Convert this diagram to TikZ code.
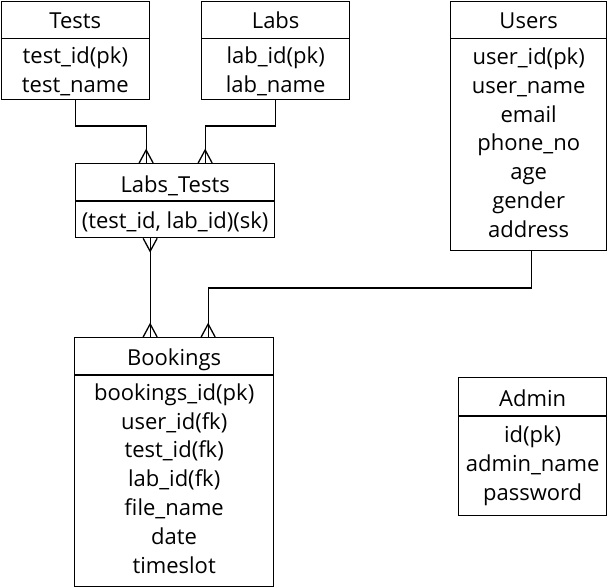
\documentclass[tikz,border=0pt]{standalone}
\usepackage{fontspec}
\setmainfont{Open Sans}
\usetikzlibrary{calc}
\tikzset{
  ent/.style={draw, line width=1.3pt, inner sep=0pt, anchor=north west},
  txt/.style={anchor=base, inner sep=0pt, font=\fontsize{22}{26}\selectfont},
  link/.style={line width=1.3pt},
}
\newcommand{\divline}[2]{\draw[link] ($(#1.north west)+(0,#2)$) -- ($(#1.north east)+(0,#2)$);}
% crow's foot at a box edge: #1 coordinate on edge, #2 = +1 box below, -1 box above
\newcommand{\crowfoot}[2]{\draw[link] ($(#1)+(-7,0)$) -- ($(#1)+(0,-13*#2)$) -- ($(#1)+(7,0)$);}
\begin{document}
\begin{tikzpicture}[x=1pt,y=-1pt]
\useasboundingbox (0,0) rectangle (607,587);
% boxes
\node[ent, minimum width=148pt, minimum height=98pt] (tests) at (0.7,0.7) {};
\node[ent, minimum width=148pt, minimum height=98pt] (labs) at (201,0.7) {};
\node[ent, minimum width=156pt, minimum height=249pt] (users) at (450,0.7) {};
\node[ent, minimum width=199pt, minimum height=74pt] (lt) at (75,163) {};
\node[ent, minimum width=199pt, minimum height=249pt] (book) at (74,337) {};
\node[ent, minimum width=148pt, minimum height=138pt] (admin) at (458,377) {};
\divline{tests}{38}
\divline{labs}{38}
\divline{users}{38}
\divline{lt}{38}
\divline{book}{38}
\divline{admin}{39}
% texts
\node[txt] (t0) at ($(tests.north)+(0,28)$) {Tests};
\node[txt] (t1) at ($(tests.north)+(0,63)$) {test\_id(pk)};
\node[txt] (t2) at ($(tests.north)+(0,92)$) {test\_name};
\node[txt] (l0) at ($(labs.north)+(0,28)$) {Labs};
\node[txt] (l1) at ($(labs.north)+(0,63)$) {lab\_id(pk)};
\node[txt] (l2) at ($(labs.north)+(0,92)$) {lab\_name};
\node[txt] (u0) at ($(users.north)+(0,28)$) {Users};
\foreach \t [count=\i] in {user\_id(pk),user\_name,email,phone\_no,age,gender,address}
  \node[txt] (u\i) at ($(users.north)+(0,35+28.8*\i)$) {\t};
\node[txt] (lt0) at ($(lt.north)+(0,29)$) {Labs\_Tests};
\node[txt] (lt1) at ($(lt.north)+(0,65)$) {(test\_id, lab\_id)(sk)};
\node[txt] (b0) at ($(book.north)+(0,28)$) {Bookings};
\foreach \t [count=\i] in {bookings\_id(pk),user\_id(fk),test\_id(fk),lab\_id(fk),file\_name,date,timeslot}
  \node[txt] (b\i) at ($(book.north)+(0,34.5+28.8*\i)$) {\t};
\node[txt] (a0) at ($(admin.north)+(0,29)$) {Admin};
\foreach \t [count=\i] in {id(pk),admin\_name,password}
  \node[txt] (a\i) at ($(admin.north)+(0,37+28.8*\i)$) {\t};
% connectors
\coordinate (ltA) at ($(lt.north)+(-29,0)$);
\coordinate (ltB) at ($(lt.north)+(30,0)$);
\coordinate (ltC) at ($(lt.south)+(-25,0)$);
\coordinate (bkA) at (ltC |- book.north);
\coordinate (bkB) at ($(book.north)+(34,0)$);
\coordinate (usC) at ($(users.south)+(3,0)$);
\draw[link] (tests.south) -- ++(0,26) -| (ltA);
\draw[link] (labs.south) -- ++(0,26) -| (ltB);
\draw[link] (ltC) -- (bkA);
\draw[link] (usC) -- ++(0,37) -| (bkB);
\crowfoot{ltA}{1}
\crowfoot{ltB}{1}
\crowfoot{bkA}{1}
\crowfoot{bkB}{1}
\crowfoot{ltC}{-1}
\end{tikzpicture}
\end{document}
